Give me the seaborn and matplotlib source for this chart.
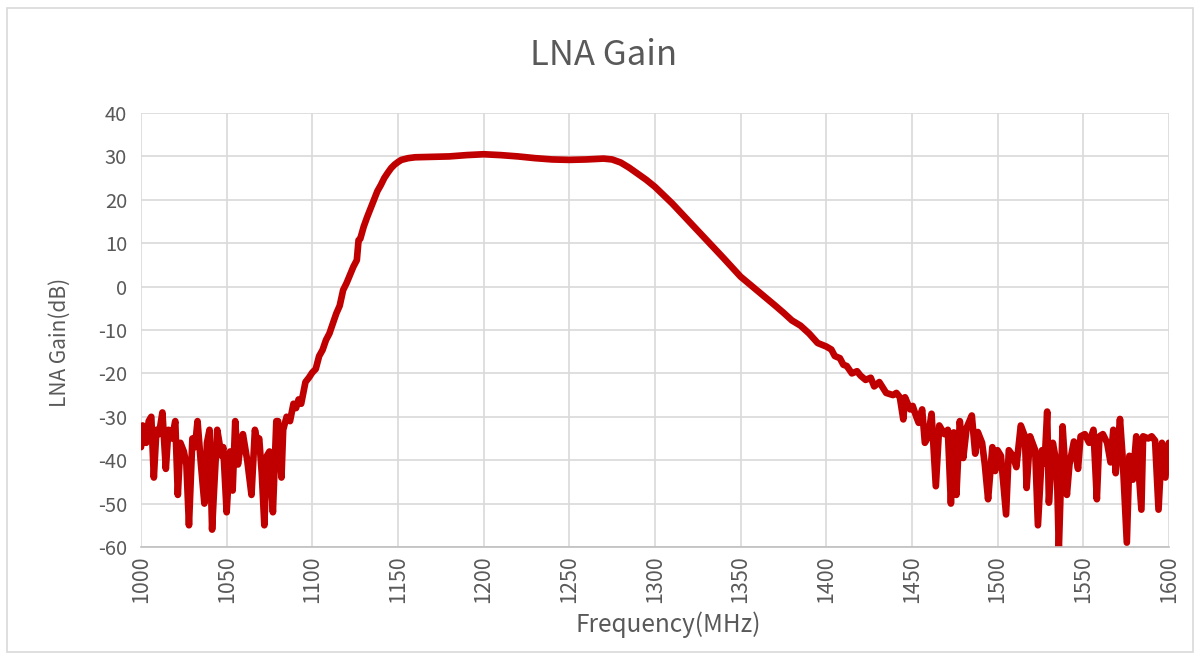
import pandas as pd
import seaborn as sns
import matplotlib.pyplot as plt
from matplotlib.patches import Rectangle

# values (MHz, dB)
freq_low = [1000, 1001, 1003, 1004.5, 1006, 1007.5, 1009, 1010.5, 1012.5, 1014.5,
            1016, 1018, 1020, 1021.5, 1023, 1025, 1026.5, 1028, 1030, 1031.5,
            1033, 1035, 1037, 1038.5, 1040, 1041.5, 1042.5, 1044.5, 1047, 1048,
            1050, 1052, 1053.5, 1055, 1056.6, 1058, 1059.5, 1062, 1064.5, 1066.5,
            1068, 1069, 1070.5, 1072, 1073.5, 1075, 1077, 1079, 1080, 1082,
            1083, 1085, 1087, 1089, 1090.5, 1092, 1093.5, 1096, 1098]
gain_low = [-37, -32, -36, -31, -30, -44, -33, -34, -29, -42,
            -33, -35, -31, -48, -36, -38, -41, -55, -35, -37,
            -31, -41, -50, -36, -33, -56, -48, -33, -39, -37,
            -52, -38, -47, -31, -41, -37, -34, -40, -48, -33,
            -36, -35, -43, -55, -39, -38, -52, -31, -31, -44,
            -33, -30, -31, -27, -28, -26, -27, -22, -21]

freq_rise = [1100, 1102, 1104, 1106, 1108, 1110, 1112, 1114, 1116, 1118,
             1120, 1122, 1124, 1126, 1127, 1128, 1130, 1132, 1134, 1136,
             1138, 1140, 1142, 1144, 1146, 1148, 1150, 1152, 1156, 1160]
gain_rise = [-19.8, -19, -16, -14.6, -12.3, -10.8, -8.5, -6.2, -4.4, -0.8,
             0.8, 2.7, 4.6, 6.1, 10.7, 11, 13.8, 16, 18, 20,
             22, 23.4, 25, 26.2, 27.3, 28.1, 28.7, 29.2, 29.6, 29.8]

freq_pass = [1170, 1180, 1190, 1200, 1210, 1220, 1230, 1240, 1250, 1260,
             1270, 1275, 1280, 1285, 1290, 1295, 1300]
gain_pass = [29.9, 30.0, 30.3, 30.5, 30.3, 30.0, 29.6, 29.3, 29.2, 29.3,
             29.5, 29.3, 28.6, 27.4, 26.0, 24.6, 23.0]

freq_fall = [1310, 1320, 1330, 1340, 1350, 1360, 1370, 1375, 1380, 1385,
             1390, 1395, 1400, 1403, 1405, 1408, 1410, 1412, 1415, 1418,
             1420, 1423, 1426, 1428, 1431]
gain_fall = [19.2, 15, 10.8, 6.6, 2.3, -1, -4.3, -6, -7.8, -9,
             -10.8, -13, -13.8, -14.5, -16, -16.5, -18, -18.3, -20, -19.5,
             -20.5, -21.5, -21, -23, -22]

freq_high = [1435, 1439, 1441, 1443, 1445, 1446, 1449, 1450.5, 1452.6, 1454,
             1456, 1457.6, 1459.5, 1461.5, 1464, 1466, 1469, 1471, 1472.8, 1474.5,
             1476, 1478, 1480, 1482, 1485, 1487, 1488.5, 1491, 1492.6, 1494.5,
             1497, 1498.6, 1500, 1502, 1505, 1506.6, 1509, 1511, 1513.6, 1516,
             1517, 1519, 1522, 1523.6, 1526, 1527.5, 1529, 1530, 1532.3, 1534.6,
             1535.8, 1538, 1540.5, 1542, 1544.6, 1547, 1548.5, 1551, 1553.5, 1556,
             1558, 1559.5, 1561.5, 1564, 1566, 1567.6, 1569, 1571.5, 1573, 1575.5,
             1577, 1579, 1581, 1584, 1585, 1588, 1590, 1592, 1594, 1596,
             1598, 1600]
gain_high = [-24.5, -25, -24.5, -25.5, -30.6, -25.5, -28.3, -27.5, -30, -31.4,
             -28.3, -36, -34.6, -29.3, -46, -32, -34, -33, -50, -33.6,
             -48, -31, -39.5, -32.5, -29.7, -38.5, -33.5, -36, -41, -49,
             -37, -42.5, -37.7, -39, -52.5, -37.7, -39, -41.6, -32, -34.5,
             -46.4, -34.5, -37.7, -55, -37.7, -40.7, -28.8, -49.8, -36, -41,
             -60.6, -32.2, -48, -41, -35.7, -42, -34.5, -34, -36, -33,
             -49, -34.5, -34, -36, -40.5, -33, -43, -30.5, -39, -59,
             -39, -44.5, -34.5, -51.4, -34.5, -35, -34.5, -35.5, -51.4, -36,
             -44, -36]

df = pd.DataFrame({
    "Frequency": freq_low + freq_rise + freq_pass + freq_fall + freq_high,
    "Gain": gain_low + gain_rise + gain_pass + gain_fall + gain_high,
})

sns.set_theme(style="whitegrid")
plt.rcParams['font.family'] = ['Noto Sans CJK SC', 'DejaVu Sans']
plt.rcParams['axes.unicode_minus'] = False
text_color = "#595959"
grid_color = "#D9D9D9"

fig = plt.figure(figsize=(12, 6.59), dpi=100)
ax = fig.add_axes([0.1175, 0.17, 0.8565, 0.6585])

sns.lineplot(data=df, x="Frequency", y="Gain", ax=ax, color="#C00000",
             linewidth=4.8, estimator=None, sort=False,
             solid_joinstyle="round", solid_capstyle="round")

ax.set_xlim(1000, 1600)
ax.set_ylim(-60, 40)
ax.set_xticks(range(1000, 1601, 50))
ax.set_yticks(range(-60, 41, 10))
ax.tick_params(axis="x", labelrotation=90, labelsize=15.5, colors=text_color, pad=6, length=0)
ax.tick_params(axis="y", labelsize=14.5, colors=text_color, pad=10, length=0)
ax.grid(True, color=grid_color, linewidth=1.2)
for side in ["top", "right", "left"]:
    ax.spines[side].set_visible(False)
ax.spines["bottom"].set_color("#BFBFBF")
ax.spines["bottom"].set_linewidth(1.2)
ax.set_xlabel("")
ax.set_ylabel("")

fig.text(0.503, 0.916, "LNA Gain", ha="center", va="center", fontsize=25, color=text_color)
fig.text(0.05, 0.48, "LNA Gain(dB)", ha="center", va="center", rotation=90,
         fontsize=15, color=text_color)
fig.text(0.557, 0.052, "Frequency(MHz)", ha="center", va="center",
         fontsize=17.5, color=text_color)

fig.patches.append(Rectangle((0.006, 0.01), 0.988, 0.978, transform=fig.transFigure,
                             fill=False, edgecolor=grid_color, linewidth=1.2))

fig.savefig("out.png", dpi=100)
plt.close(fig)
